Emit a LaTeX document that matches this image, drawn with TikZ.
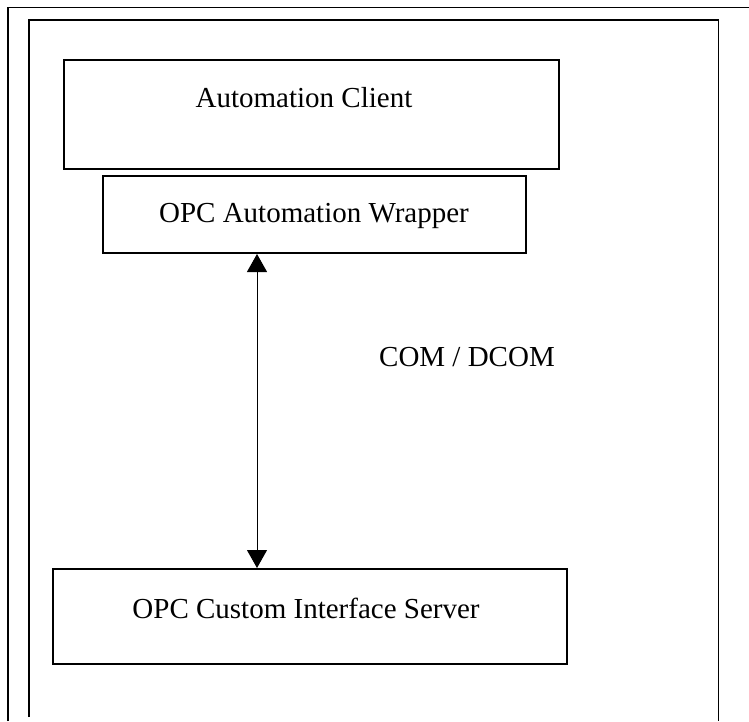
\documentclass[tikz,border=0pt]{standalone}
\usepackage{fontspec}
\setmainfont{Liberation Serif}
\usetikzlibrary{arrows.meta}
\tikzset{
  boxnode/.style={draw=black, line width=2pt, inner sep=0pt},
  frameline/.style={draw=black, line width=1.8pt},
  lbl/.style={anchor=base, inner sep=0pt, font=\fontsize{29}{34}\selectfont},
  link/.style={draw=black, line width=1pt, {Triangle[width=20pt,length=18pt]}-{Triangle[width=20pt,length=18pt]}}
}
\begin{document}
\begin{tikzpicture}[x=1pt,y=-1pt]
\useasboundingbox (0,0) rectangle (749,721);
% outer frame (open at right and bottom)
\draw[frameline] (8,721) -- (8,7.5) -- (749,7.5);
% inner frame (open at bottom)
\draw[frameline] (29,717) -- (29,20) -- (718.5,20) -- (718.5,721);
% boxes
\node[boxnode, minimum width=495pt, minimum height=109pt] (client) at (311.5,114.5) {};
\node[boxnode, minimum width=423pt, minimum height=77pt] (wrap) at (314.5,214.5) {};
\node[boxnode, minimum width=514pt, minimum height=95pt] (srv) at (310,616.5) {};
% labels
\node[lbl] (clientlbl) at (304,107) {Automation Client};
\node[lbl] (wraplbl) at (314,222) {OPC Automation Wrapper};
\node[lbl] (comlbl) at (467,366) {COM / DCOM};
\node[lbl] (srvlbl) at (306,618) {OPC Custom Interface Server};
% connector
\coordinate (ax) at (257,0);
\draw[link] (wrap.south -| ax) -- (srv.north -| ax);
\end{tikzpicture}
\end{document}
